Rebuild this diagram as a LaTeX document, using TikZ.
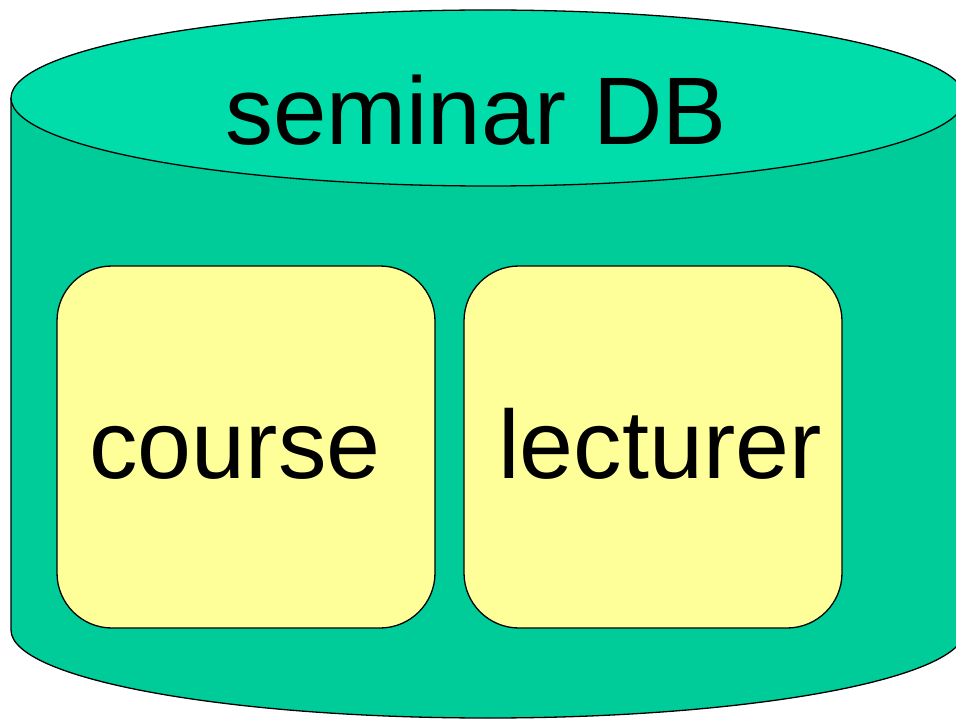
\documentclass[tikz,border=0pt]{standalone}
\usepackage{fontspec}
\setmainfont{Liberation Sans}
\definecolor{topc}{HTML}{00DDAA}
\definecolor{bodyc}{HTML}{00CC99}
\definecolor{boxc}{HTML}{FFFF99}
\begin{document}
\begin{tikzpicture}[x=1pt,y=-1pt,
  rbox/.style={draw=black,line width=1.3pt,fill=boxc,rounded corners=55pt,minimum width=378pt,minimum height=362pt,inner sep=0pt},
  lbl/.style={font=\fontsize{97}{107}\selectfont,anchor=base},
  cyl/.style={draw=black,line width=1.3pt}]
\useasboundingbox (0,0) rectangle (956,719);
\begin{scope}
\clip (0,0) rectangle (956,719);
\fill[bodyc] (11,98) -- (11,630) arc[start angle=180,end angle=0,x radius=477,y radius=88] -- (965,98) -- cycle;
\draw[cyl] (11,98) -- (11,630) arc[start angle=180,end angle=0,x radius=477,y radius=88] -- (965,98);
\draw[cyl,fill=topc] (488,98) ellipse[x radius=477,y radius=88];
\end{scope}
\node[font=\fontsize{96}{106}\selectfont,anchor=base] (title) at (476,145) {seminar DB};
\node[rbox] (course) at (246,447) {};
\node[rbox] (lect) at (653,447) {};
\node[lbl] (ct) at (235,478) {course};
\node[lbl] (lt) at (660,478) {lecturer};
\end{tikzpicture}
\end{document}
